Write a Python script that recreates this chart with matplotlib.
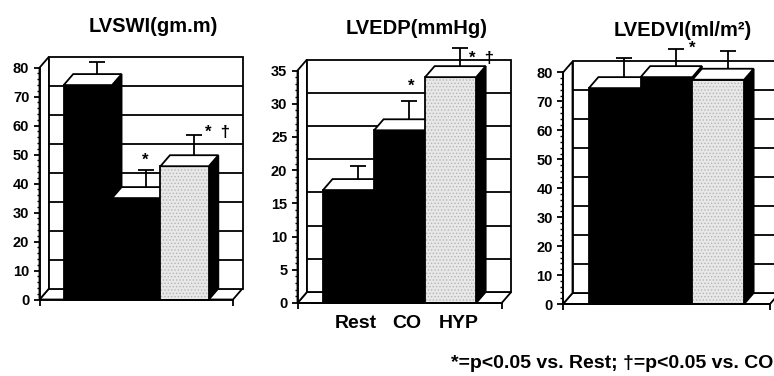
import numpy as np
import matplotlib.pyplot as plt
from matplotlib.patches import Polygon
from matplotlib.ticker import MultipleLocator, FixedLocator

plt.rcParams['font.family'] = ['Liberation Sans', 'DejaVu Sans']
plt.rcParams['font.weight'] = 'bold'
plt.rcParams['hatch.linewidth'] = 0.6

# Group names and means / SDs for each measurement
groups = ["Rest", "CO", "HYP"]

lvswi = [74, 35, 46]
lvswi_sd = [4, 6, 7]

lvedp = [17, 26, 34]
lvedp_sd = [1.9, 2.8, 2.7]

lvedvi = [74.6, 78.4, 77.5]
lvedvi_sd = [6.6, 6.0, 6.3]

# significance marks: (bar index, text)
lvswi_marks = [(1, "*"), (2, "*  \u2020")]
lvedp_marks = [(1, "*"), (2, "*  \u2020")]
lvedvi_marks = [(1, "*")]

footnote = "*=p<0.05 vs. Rest; \u2020=p<0.05 vs. CO"

W, H = 774, 376
DEPTH = (9.5, 11.0)   # px offset of the back wall
LW = 1.3
face_colors = ["black", "black", "#e8e8e8"]

fig = plt.figure(figsize=(W / 100, H / 100), dpi=100)


def px_axes(x, y_floor, w, h):
    return fig.add_axes([x / W, (H - y_floor) / H, w / W, h / H])


def panel(ax, title, vals, sds, ymax, major, minor, marks, mark_off, labels=None):
    xmax, start = 4.0, 0.5
    ax.set_xlim(0, xmax)
    ax.set_ylim(0, ymax)
    ax.patch.set_visible(False)
    pos = ax.get_position()
    dx = DEPTH[0] * xmax / (pos.width * W)
    dy = DEPTH[1] * ymax / (pos.height * H)
    cap = 8 * xmax / (pos.width * W)

    def poly(pts, fc, z, **kw):
        p = Polygon(pts, closed=True, facecolor=fc, edgecolor=kw.pop('ec', 'black'),
                    linewidth=kw.pop('lw', LW), zorder=z, clip_on=False,
                    joinstyle='miter', **kw)
        ax.add_patch(p)

    # floor, side wall, back wall
    poly([(0, 0), (xmax, 0), (xmax + dx, dy), (dx, dy)], 'white', 0.2)
    poly([(0, 0), (dx, dy), (dx, ymax + dy), (0, ymax)], 'white', 0.2)
    poly([(dx, dy), (xmax + dx, dy), (xmax + dx, ymax + dy), (dx, ymax + dy)], 'white', 0.2)
    grid = np.arange(major, ymax, major)
    ax.hlines(grid + dy, dx, xmax + dx, colors='black', linewidth=LW, zorder=0.3,
              clip_on=False)

    centers = []
    for i, (v, sd) in enumerate(zip(vals, sds)):
        x0 = start + i
        x1 = x0 + 1
        z = 1 + i
        poly([(x1, 0), (x1 + dx, dy), (x1 + dx, v + dy), (x1, v)], 'black', z)
        if face_colors[i] == 'black':
            poly([(x0, 0), (x1, 0), (x1, v), (x0, v)], 'black', z)
        else:
            poly([(x0, 0), (x1, 0), (x1, v), (x0, v)], face_colors[i], z,
                 ec='#b4b4b4', lw=0, hatch='.....')
            poly([(x0, 0), (x1, 0), (x1, v), (x0, v)], 'none', z)
        poly([(x0, v), (x1, v), (x1 + dx, v + dy), (x0 + dx, v + dy)], 'white', z)
        xc = (x0 + x1) / 2 + dx
        top = v + dy
        ax.vlines(xc, top, top + sd, colors='black', linewidth=LW, zorder=z + 0.5,
                  clip_on=False)
        ax.hlines(top + sd, xc - cap, xc + cap, colors='black', linewidth=LW,
                  zorder=z + 0.5, clip_on=False)
        centers.append((x0 + x1) / 2)

    for (i, txt), (ox, oy) in zip(marks, mark_off):
        xc = centers[i] + dx
        ax.annotate(txt, xy=(xc, vals[i] + dy + sds[i]), xytext=(ox * 0.72, oy * 0.72),
                    textcoords='offset points', ha='center', va='baseline',
                    fontsize=12, annotation_clip=False)

    for s in ['top', 'right']:
        ax.spines[s].set_visible(False)
    for s in ['left', 'bottom']:
        ax.spines[s].set_linewidth(LW)
        ax.spines[s].set_zorder(5)

    ax.yaxis.set_major_locator(MultipleLocator(major))
    ax.yaxis.set_minor_locator(MultipleLocator(minor))
    ax.tick_params(axis='y', which='major', length=4.3, width=LW, labelsize=10.5, pad=3)
    ax.tick_params(axis='y', which='minor', length=2.2, width=1.0)
    ax.xaxis.set_minor_locator(FixedLocator([0, xmax]))
    ax.tick_params(axis='x', which='minor', length=4.3, width=LW)
    if labels:
        ax.set_xticks(np.array(centers) + 0.8 * dx, labels)
        ax.tick_params(axis='x', which='major', length=0, labelsize=14, pad=9)
    else:
        ax.set_xticks([])

    ax.annotate(title, xy=(0.5, 1), xycoords='axes fraction', xytext=(12, 30),
                textcoords='offset points', ha='center', va='center', fontsize=14.5)


ax1 = px_axes(39.5, 299.5, 193.5, 231.8)
panel(ax1, "LVSWI(gm.m)", lvswi, lvswi_sd, 80, 10, 2,
      lvswi_marks, [(-1, 4.7), (23.5, -2)])

ax2 = px_axes(297.5, 303, 204.2, 232.5)
panel(ax2, "LVEDP(mmHg)", lvedp, lvedp_sd, 35, 5, 1,
      lvedp_marks, [(2, 10), (21.5, -15)], labels=groups)

ax3 = px_axes(563, 304, 207, 231.5)
panel(ax3, "LVEDVI(ml/m\u00b2)", lvedvi, lvedvi_sd, 80, 10, 2,
      lvedvi_marks, [(16, -3.7)])

fig.text(773 / W, (H - 364) / H, footnote, ha='right', va='center', fontsize=14)

plt.savefig("out.png", dpi=100)
